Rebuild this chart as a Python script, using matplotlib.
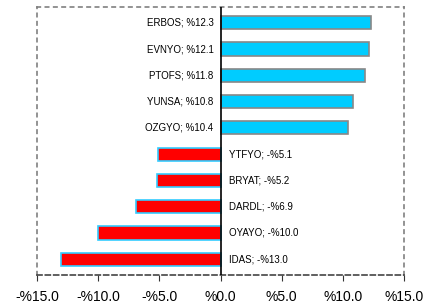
import matplotlib.pyplot as plt
import numpy as np

plt.rcParams['font.family'] = ['Liberation Sans', 'DejaVu Sans']

NAMES = ["IDAS", "OYAYO", "DARDL", "BRYAT", "YTFYO",
         "OZGYO", "YUNSA", "PTOFS", "EVNYO", "ERBOS"]
VALUES = [-13.0, -10.0, -6.9, -5.2, -5.1, 10.4, 10.8, 11.8, 12.1, 12.3]
TICKS = [-15, -10, -5, 0, 5, 10, 15]


def fmt(v):
    return ("-%" if v < 0 else "%") + "%.1f" % abs(v)


fig = plt.figure(figsize=(4.39, 3.03), dpi=100)
ax = fig.add_axes([37 / 439, 28 / 303, 367 / 439, 268 / 303])

y = np.arange(len(NAMES))
for i, v in enumerate(VALUES):
    if v >= 0:
        ax.barh(y[i], v, height=0.5, color="#00CCFF", edgecolor="#888888", linewidth=1.2, zorder=2)
        ax.annotate(NAMES[i] + "; " + fmt(v), (0, y[i]), xytext=(-5, 0), textcoords="offset points",
                    ha="right", va="center", fontsize=7)
    else:
        ax.barh(y[i], v, height=0.5, color="#FF0000", edgecolor="#33CCFF", linewidth=1.2, zorder=2)
        ax.annotate(NAMES[i] + "; " + fmt(v), (0, y[i]), xytext=(6, 0), textcoords="offset points",
                    ha="left", va="center", fontsize=7)

ax.axvline(0, color="black", linewidth=1.2, zorder=3)
ax.set_xlim(-15, 15)
ax.set_ylim(-0.6, 9.6)
ax.set_yticks([])
ax.set_xticks(TICKS)
ax.set_xticklabels([fmt(t) for t in TICKS], fontsize=10)
ax.tick_params(axis="x", direction="out", length=4, color="#333333", pad=7)

for side in ["left", "top", "right"]:
    ax.spines[side].set_linestyle((0, (2, 3)))
    ax.spines[side].set_color("#808080")
    ax.spines[side].set_linewidth(1.2)
ax.spines["bottom"].set_linestyle((0, (3, 2)))
ax.spines["bottom"].set_color("#444444")
ax.spines["bottom"].set_linewidth(1.2)

plt.savefig("out.png", dpi=100)
